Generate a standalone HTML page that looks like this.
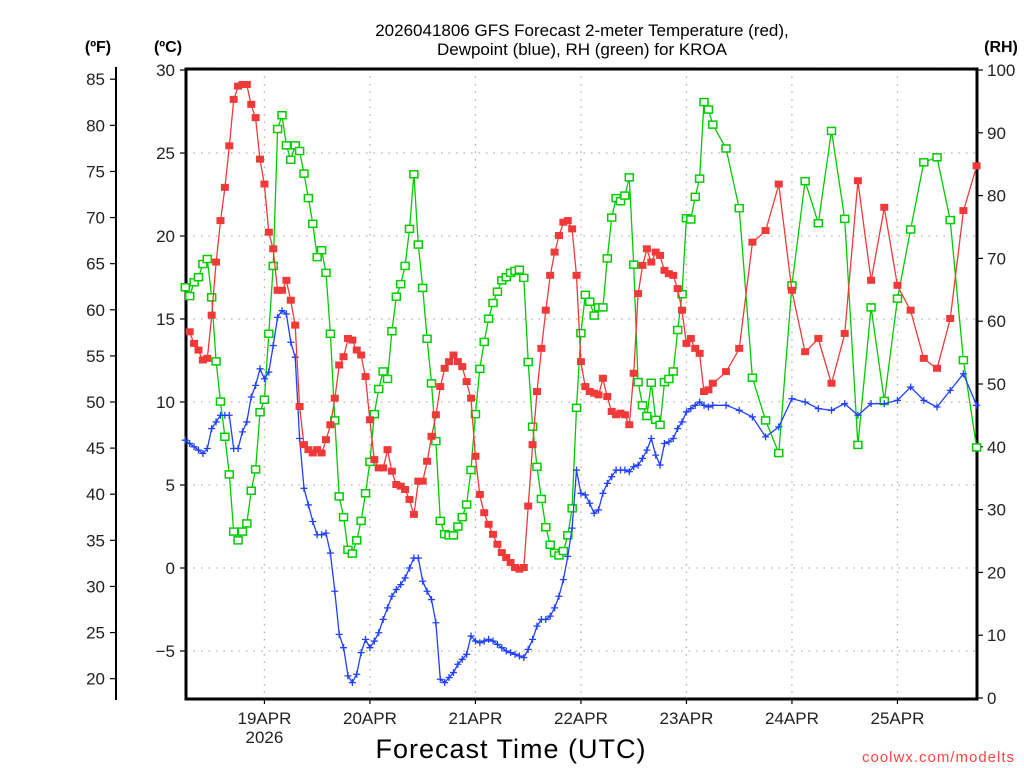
<!DOCTYPE html>
<html><head><meta charset="utf-8"><style>
html,body{margin:0;padding:0;background:#fff;width:1024px;height:768px;overflow:hidden}
svg text{font-family:"Liberation Sans","DejaVu Sans",sans-serif}
</style></head><body>
<svg id="chart" width="1024" height="768" viewBox="0 0 1024 768" xmlns="http://www.w3.org/2000/svg">
<g id="grid"></g>
<g id="axes"></g>
<g id="series"></g>
<text x="582" y="36" font-size="17" text-anchor="middle" fill="#000">2026041806 GFS Forecast 2-meter Temperature (red),</text>
<text x="582" y="55" font-size="17" text-anchor="middle" fill="#000">Dewpoint (blue), RH (green) for KROA</text>
<text x="98" y="52" font-size="16" font-weight="bold" text-anchor="middle">(ºF)</text>
<text x="168" y="52" font-size="16" font-weight="bold" text-anchor="middle">(ºC)</text>
<text x="1001" y="52" font-size="16" font-weight="bold" text-anchor="middle">(RH)</text>
<text x="511" y="758" font-size="27" text-anchor="middle" letter-spacing="1">Forecast Time (UTC)</text>
<text x="1015" y="762" font-size="15" text-anchor="end" fill="#ff4444" letter-spacing="1">coolwx.com/modelts</text>
</svg>
<script>
// forecast hours of each sample
const hours = [0,1,2,3,4,5,6,7,8,9,10,11,12,13,14,15,16,17,18,19,20,21,22,23,24,25,26,27,28,29,30,31,32,33,34,35,36,37,38,39,40,41,42,43,44,45,46,47,48,49,50,51,52,53,54,55,56,57,58,59,60,61,62,63,64,65,66,67,68,69,70,71,72,73,74,75,76,77,78,79,80,81,82,83,84,85,86,87,88,89,90,91,92,93,94,95,96,97,98,99,100,101,102,103,104,105,106,107,108,109,110,111,112,113,114,115,116,117,118,119,120,123,126,129,132,135,138,141,144,147,150,153,156,159,162,165,168,171,174,177,180];
// 2-m temperature (°C)
const tempC = [null,14.2,13.5,13.1,12.5,12.6,15.2,18.4,20.9,22.9,25.4,28.2,29.0,29.1,29.1,27.9,27.1,24.6,23.1,20.2,19.2,16.7,16.7,17.3,16.1,14.6,9.7,7.4,7.1,6.9,7.1,6.9,7.7,8.6,10.2,12.2,12.7,
13.8,13.7,13.1,12.8,11.5,8.9,6.5,6.0,6.0,7.1,5.8,5.0,4.9,4.7,4.1,3.2,5.2,5.2,6.4,7.9,9.2,10.9,12.0,12.4,12.8,12.4,12.1,11.2,10.2,6.7,4.4,3.3,2.6,2.0,1.4,
0.9,0.6,0.3,0.0,-0.1,0.0,3.7,7.4,10.6,13.2,15.5,17.6,19.0,20.0,20.8,20.9,20.4,17.6,12.4,10.9,10.6,10.5,10.4,11.4,10.3,9.4,9.2,9.3,9.2,8.6,11.7,16.5,18.2,19.2,18.4,19.0,
18.8,17.9,17.7,17.6,16.8,15.5,13.5,13.8,13.2,12.9,10.6,10.7,11.1,
11.8,13.2,19.6,20.3,23.1,16.7,13.0,13.8,11.1,14.1,23.3,17.3,21.7,17.0,15.5,12.6,12.0,15.0,21.5,24.2];
// dewpoint (°C)
const dewC = [7.7,7.5,7.3,7.1,6.9,7.2,8.4,8.8,9.2,9.2,9.2,7.2,7.2,8.2,8.8,10.3,11.0,12.0,11.4,11.8,13.4,15.1,15.5,15.3,13.6,12.7,7.8,4.8,3.8,2.8,2.0,2.0,2.1,0.9,-1.4,-4.0,-4.8,
-6.5,-6.9,-6.4,-5.1,-4.3,-4.8,-4.4,-3.9,-3.1,-2.4,-1.7,-1.3,-1.0,-0.6,0.0,0.6,0.6,-0.8,-1.4,-1.9,-3.3,-6.7,-6.9,-6.6,-6.3,-5.8,-5.5,-5.2,-4.1,-4.4,-4.5,-4.4,-4.3,-4.4,-4.6,
-4.8,-5.0,-5.1,-5.2,-5.3,-5.4,-4.9,-4.3,-3.5,-3.1,-3.1,-2.9,-2.4,-1.7,-0.7,0.7,2.4,5.9,4.5,4.4,3.9,3.3,3.5,4.5,5.1,5.5,5.9,5.9,5.9,5.8,6.1,6.2,6.6,7.1,7.8,6.8,
6.2,7.5,7.6,7.8,8.4,8.8,9.4,9.6,9.8,10.0,9.8,9.7,9.8,
9.8,9.5,9.1,7.9,8.5,10.2,10.0,9.6,9.5,9.9,9.2,9.9,9.9,10.1,10.9,10.1,9.7,10.7,11.7,9.8];
// relative humidity (%)
const rhPct = [65.4,64.0,66.2,67.0,69.1,69.9,63.8,53.6,47.2,41.6,35.6,26.5,25.1,26.5,27.8,33.0,36.4,45.5,47.5,58.0,68.8,90.6,92.8,88.0,85.7,88.0,87.1,83.5,79.6,75.5,70.2,71.3,67.7,58.0,44.2,32.1,28.8,
23.6,23.0,25.1,28.2,32.6,37.6,45.2,49.2,52.0,50.8,58.4,63.9,65.9,68.8,74.7,83.4,72.2,65.3,57.2,50.1,40.9,28.2,26.1,25.9,25.9,27.3,28.8,30.8,36.3,45.2,52.4,56.7,60.4,62.9,64.7,
66.5,67.0,67.7,68.0,68.2,66.9,53.5,43.2,36.8,31.7,27.2,24.4,23.1,22.7,23.4,25.9,30.2,46.2,58.1,64.2,63.1,60.9,62.2,62.2,70.0,76.5,79.6,79.1,80.0,82.9,69.0,50.3,46.6,44.9,50.2,44.3,
43.5,50.3,50.8,52.0,58.6,64.3,76.4,76.2,79.8,82.7,94.9,93.7,91.3,
87.5,78.0,51.0,44.2,39.0,65.7,82.3,75.6,90.3,76.3,40.3,62.2,47.3,63.6,74.6,85.3,86.1,76.1,53.8,39.9];
const dayLabels = ["19APR","20APR","21APR","22APR","23APR","24APR","25APR"];
const dayHours = [18,42,66,90,114,138,162];
const cTicks = [30,25,20,15,10,5,0,-5];
const fTicks = [85,80,75,70,65,60,55,50,45,40,35,30,25,20];
const rhTicks = [100,90,80,70,60,50,40,30,20,10,0];

const L=186,R=977,T=69,B=699;
const xs = h => 185.3 + 4.396*h;
const yC = c => 568 - 16.6*c;
const yF = f => yC((f-32)*5/9);
const yRH = r => 698 - 6.28*r;
const NS="http://www.w3.org/2000/svg";
function mk(tag, attrs, parent){const e=document.createElementNS(NS,tag);for(const k in attrs)e.setAttribute(k,attrs[k]);parent.appendChild(e);return e;}
const grid=document.getElementById('grid'), axes=document.getElementById('axes'), ser=document.getElementById('series');

cTicks.forEach(c=>{
  const y=yC(c);
  const g=mk('line',{x1:L,x2:R,y1:y,y2:y,stroke:'#b0b0b0','stroke-width':1.3,'stroke-dasharray':'1.5 6'},grid);
  
  
  const t=mk('line',{x1:L-6,x2:L,y1:y,y2:y,stroke:'#000','stroke-width':1.2},axes);
  
  
  const tx=mk('text',{x:L-11,y:y+6,'font-size':17,'text-anchor':'end',fill:'#222'},axes);
  
  
  tx.textContent=c<0?'\u2212'+(-c):String(c);
});
dayHours.forEach((h,i)=>{
  const x=xs(h);
  const g=mk('line',{x1:x,x2:x,y1:T,y2:B,stroke:'#b0b0b0','stroke-width':1.3,'stroke-dasharray':'1.5 6'},grid);
  
  
  const t=mk('line',{x1:x,x2:x,y1:B,y2:B+5,stroke:'#000','stroke-width':1.2},axes);
  
  
  const tx=mk('text',{x:x,y:724,'font-size':17,'text-anchor':'middle',fill:'#222'},axes);
  
  
  tx.textContent=dayLabels[i];
});
const yr=mk('text',{x:xs(dayHours[0]),y:743,'font-size':17,'text-anchor':'middle',fill:'#222'},axes);


yr.textContent='2026';

fTicks.forEach(f=>{
  const y=yF(f);
  const t=mk('line',{x1:110,x2:116,y1:y,y2:y,stroke:'#000','stroke-width':1.2},axes);
  
  
  const tx=mk('text',{x:105,y:y+6,'font-size':17,'text-anchor':'end',fill:'#222'},axes);
  
  
  tx.textContent=String(f);
});
rhTicks.forEach(r=>{
  const y=yRH(r);
  const t=mk('line',{x1:R,x2:R+6,y1:y,y2:y,stroke:'#000','stroke-width':1.2},axes);
  
  
  const tx=mk('text',{x:R+10,y:y+6,'font-size':17,'text-anchor':'start',fill:'#222'},axes);
  
  
  tx.textContent=String(r);
});
const frame=mk('path',{d:`M${L},${T}H${R}V${B}H${L}Z`,fill:'none',stroke:'#000','stroke-width':3},axes);


const fax=mk('line',{x1:116,x2:116,y1:67,y2:700,stroke:'#000','stroke-width':2},axes);



function drawSeries(vals, yf, color, name, marker){
  const g=mk('g',{},ser);
  
  
  let d='';
  vals.forEach((v,i)=>{ if(v===null) return; d+=(d?'L':'M')+xs(hours[i]).toFixed(1)+','+yf(v).toFixed(1);});
  const p=mk('path',{d:d,fill:'none',stroke:color,'stroke-width':1.3},g);
  
  
  vals.forEach((v,i)=>{
    if(v===null) return;
    const x=xs(hours[i]), y=yf(v);
    let m;
    if(marker==='fill'){ m=mk('rect',{x:x-4,y:y-4,width:8,height:7,fill:color},g); }
    else if(marker==='open'){ m=mk('rect',{x:x-4,y:y-3.5,width:8,height:7,fill:'#fff',stroke:color,'stroke-width':1.5},g); }
    else { m=mk('path',{d:`M${x-3.5},${y}H${x+3.5}M${x},${y-3.5}V${y+3.5}`,stroke:color,'stroke-width':1.3},g); }
    
    
  });
}
drawSeries(rhPct, yRH, '#00cc00', 'rh', 'open');
drawSeries(dewC, yC, '#2040ff', 'dewpoint', 'plus');
drawSeries(tempC, yC, '#f03a3a', 'temperature', 'fill');
</script>
</body></html>
